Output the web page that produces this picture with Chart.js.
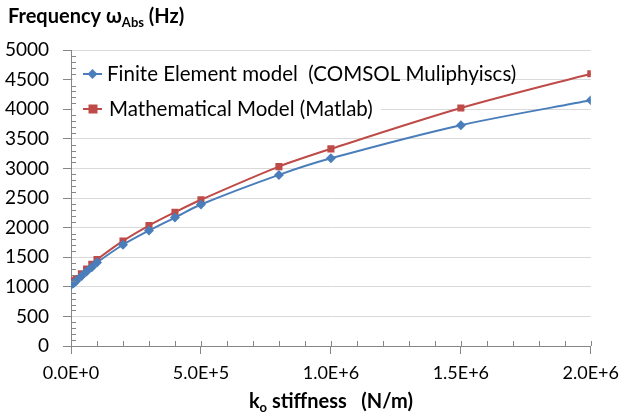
<!DOCTYPE html>
<html>
<head>
<meta charset="utf-8">
<script src="https://cdn.jsdelivr.net/npm/chart.js@4.4.0/dist/chart.umd.min.js"></script>
<style>
  html, body { margin: 0; padding: 0; background: #fff; }
  #wrap { width: 627px; height: 418px; }
</style>
</head>
<body>
<div id="wrap"><canvas id="chart" width="627" height="418"></canvas></div>
<script>
// stiffness k0 (N/m)
const stiffness = [0, 1e4, 2e4, 4e4, 6e4, 8e4, 1e5, 2e5, 3e5, 4e5, 5e5, 8e5, 1e6, 1.5e6, 2e6];
// absorber frequency (Hz)
const femFreq = [1030, 1060, 1100, 1180, 1260, 1330, 1410, 1710, 1950, 2170, 2390, 2890, 3170, 3730, 4150];
const mathFreq = [1070, 1100, 1140, 1220, 1300, 1380, 1460, 1775, 2035, 2260, 2470, 3030, 3330, 4020, 4600];
const seriesNames = ['Finite Element model  (COMSOL Muliphyiscs)', 'Mathematical Model (Matlab)'];

const FONT = 'Lato, "DejaVu Sans", sans-serif';
const AXIS = '#868686';

function pts(ys) {
    return stiffness.map((x, i) => ({ x: x, y: ys[i] }));
}

// small ticks between the labelled ones
const minorTicks = {
    id: 'minorTicks',
    afterDraw(chart) {
        const ctx = chart.ctx;
        const xs = chart.scales.x, ys = chart.scales.y;
        const a = chart.chartArea;
        ctx.save();
        ctx.strokeStyle = AXIS;
        ctx.lineWidth = 1;
        ctx.beginPath();
        for (let v = 0; v <= 5000; v += 100) {
            if (v % 500 === 0) continue;
            const y = Math.round(ys.getPixelForValue(v)) + 0.5;
            ctx.moveTo(a.left, y);
            ctx.lineTo(a.left + 5, y);
        }
        for (let v = 0; v <= 2e6; v += 1e5) {
            const x = Math.round(xs.getPixelForValue(v)) + 0.5;
            ctx.moveTo(x, a.bottom);
            ctx.lineTo(x, a.bottom - 5);
        }
        ctx.stroke();
        ctx.restore();
    }
};

// legend in the top-left corner of the plot, line + marker like the original
const boxLegend = {
    id: 'boxLegend',
    afterDatasetsDraw(chart) {
        const ctx = chart.ctx;
        ctx.save();
        ctx.fillStyle = '#fff';
        ctx.fillRect(73, 55, 308, 70);
        ctx.font = '20.5px ' + FONT;
        ctx.textBaseline = 'middle';
        const rows = [74, 109];
        chart.data.datasets.forEach((ds, i) => {
            const y = rows[i];
            ctx.strokeStyle = ds.borderColor;
            ctx.lineWidth = 2;
            ctx.beginPath();
            ctx.moveTo(83, y);
            ctx.lineTo(102, y);
            ctx.stroke();
            ctx.fillStyle = ds.borderColor;
            ctx.beginPath();
            if (ds.pointStyle === 'rectRot') {
                ctx.moveTo(92.5, y - 5);
                ctx.lineTo(97.5, y);
                ctx.lineTo(92.5, y + 5);
                ctx.lineTo(87.5, y);
            } else {
                ctx.rect(88.5, y - 4.5, 9, 9);
            }
            ctx.fill();
            ctx.fillStyle = '#000';
            ctx.fillText(ds.label, 107 + (i ? 2 : 0), y);
        });
        ctx.restore();
    }
};

// axis titles with subscripts
const axisTitles = {
    id: 'axisTitles',
    afterDraw(chart) {
        const ctx = chart.ctx;
        const a = chart.chartArea;
        ctx.save();
        ctx.fillStyle = '#000';
        ctx.textBaseline = 'alphabetic';
        const big = 'bold 20px ' + FONT, small = 'bold 13px ' + FONT;

        function parts(list, x, y) {
            list.forEach(p => {
                ctx.font = p[1] ? small : big;
                ctx.fillText(p[0], x, y + (p[1] ? 4 : 0));
                x += ctx.measureText(p[0]).width;
            });
        }
        function width(list) {
            return list.reduce((w, p) => {
                ctx.font = p[1] ? small : big;
                return w + ctx.measureText(p[0]).width;
            }, 0);
        }

        parts([['Frequency \u03c9', 0], ['Abs', 1], [' (Hz)', 0]], 8, 23);

        const xt = [['k', 0], ['o', 1], [' stiffness   (N/m)', 0]];
        parts(xt, (a.left + a.right) / 2 - width(xt) / 2, 408);
        ctx.restore();
    }
};

new Chart(document.getElementById('chart'), {
    type: 'line',
    data: {
        datasets: [{
            label: seriesNames[0],
            data: pts(femFreq),
            borderColor: '#4A7EBB',
            backgroundColor: '#4A7EBB',
            borderWidth: 2,
            pointStyle: 'rectRot',
            pointRadius: 5,
            pointBorderWidth: 0,
            tension: 0.3
        }, {
            label: seriesNames[1],
            data: pts(mathFreq),
            borderColor: '#BE4B48',
            backgroundColor: '#BE4B48',
            borderWidth: 2,
            pointStyle: 'rect',
            pointRadius: 5,
            pointBorderWidth: 0,
            tension: 0.3
        }]
    },
    options: {
        responsive: false,
        animation: false,
        layout: { padding: { top: 50, right: 33, left: 0, bottom: 0 } },
        plugins: {
            legend: { display: false },
            tooltip: { enabled: false }
        },
        scales: {
            x: {
                type: 'linear',
                min: 0,
                max: 2e6,
                afterFit: s => { s.height = 72; },
                border: { color: AXIS },
                grid: { drawOnChartArea: false, drawTicks: true, tickLength: 8, tickColor: AXIS },
                ticks: {
                    stepSize: 5e5,
                    padding: 8,
                    color: '#000',
                    font: { family: FONT, size: 18 },
                    maxRotation: 0,
                    callback: v => v.toExponential(1).toUpperCase()
                }
            },
            y: {
                min: 0,
                max: 5000,
                afterFit: s => { s.width = 71; },
                border: { color: AXIS },
                grid: { color: '#D9D9D9', tickLength: 8, tickColor: AXIS },
                ticks: {
                    stepSize: 500,
                    padding: 14,
                    color: '#000',
                    font: { family: FONT, size: 19 },
                    callback: v => String(v)
                }
            }
        }
    },
    plugins: [minorTicks, boxLegend, axisTitles]
});
</script>
</body>
</html>
